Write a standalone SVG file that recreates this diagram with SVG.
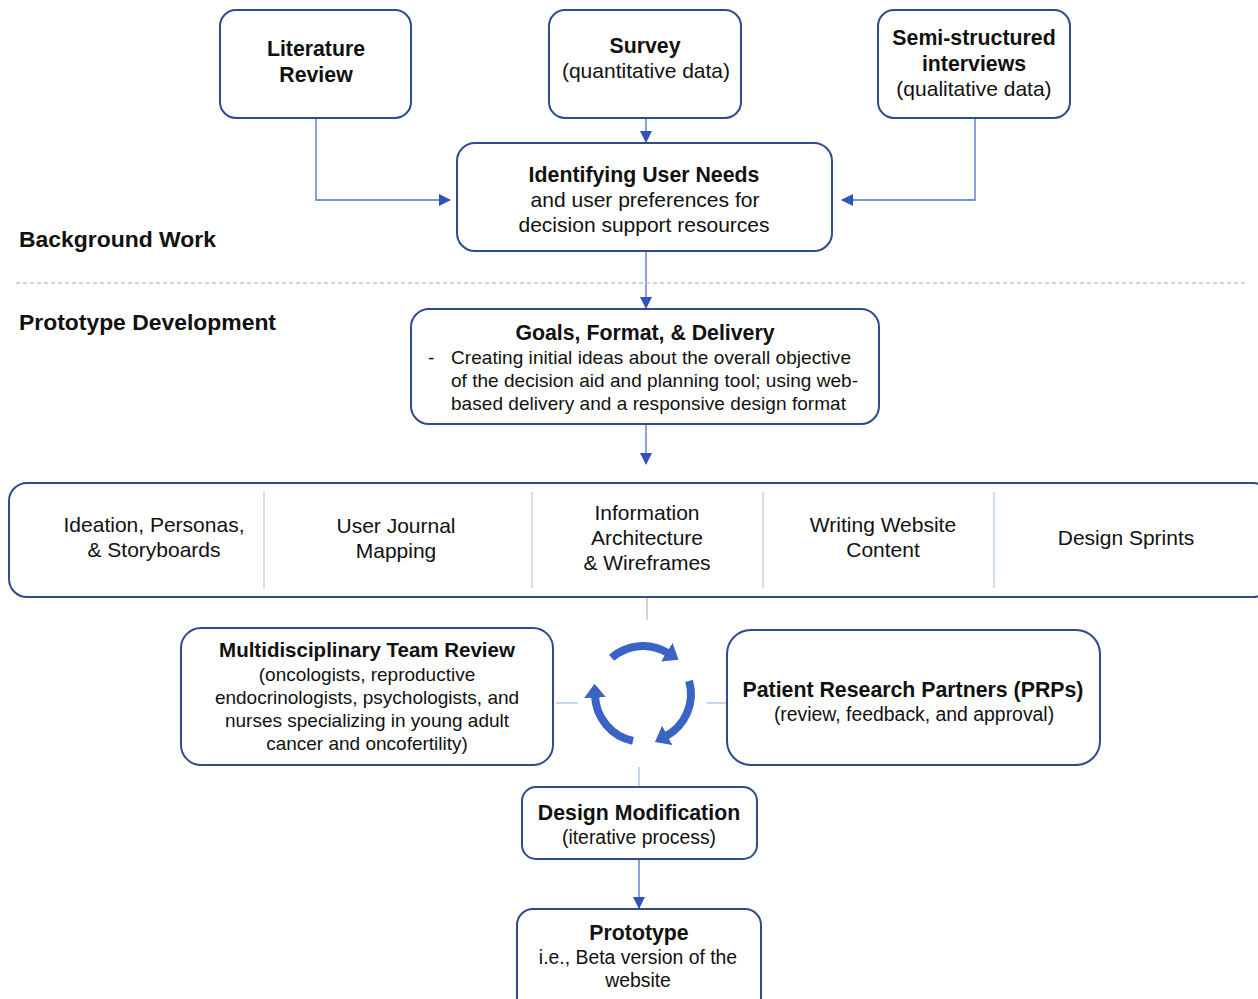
<svg xmlns="http://www.w3.org/2000/svg" width="1258" height="999" viewBox="0 0 1258 999">
<style>
.box{fill:#fff;stroke:#2e4b8c;stroke-width:2}
.t{font-family:"Liberation Sans",Arial,sans-serif;fill:#111;text-anchor:middle}
.b{font-weight:bold;font-size:21.3px}
.s21{font-size:21px}
.s19{font-size:19px}
.s195{font-size:19.4px}
.con{fill:none;stroke:#4a73c9;stroke-width:1.3}
.light{fill:none;stroke:#a9c0e6;stroke-width:1.3}
.div{stroke:#c3d3ee;stroke-width:1.5}
.cyc{fill:none;stroke:#3a63c6;stroke-width:8}
</style>
<defs>
<marker id="ah" markerUnits="userSpaceOnUse" markerWidth="12" markerHeight="12" viewBox="0 0 12 12" refX="11" refY="6" orient="auto">
<path d="M0 0 L12 6 L0 12 z" fill="#3152b8"/>
</marker>
<marker id="cy" markerUnits="userSpaceOnUse" markerWidth="14" markerHeight="22" viewBox="0 0 14 22" refX="2" refY="11" orient="auto">
<path d="M0 0 L14 11 L0 22 z" fill="#3a63c6"/>
</marker>
</defs>

<g id="connectors">
<path class="con" d="M316 118 V200 H450" marker-end="url(#ah)"/>
<path class="con" d="M646 118 V142" marker-end="url(#ah)"/>
<path class="con" d="M975 118 V200 H842" marker-end="url(#ah)"/>
<path class="con" d="M646 251 V308" marker-end="url(#ah)"/>
<path class="con" d="M646 424 V464" marker-end="url(#ah)"/>
<path class="light" d="M647 598 V620"/>
<path class="light" d="M556 703 H578"/>
<path class="light" d="M707 703 H729"/>
<path class="light" d="M639 767 V787"/>
<path class="con" d="M639 859 V908" marker-end="url(#ah)"/>
<path class="cyc" d="M611.5 657.8 A48 48 0 0 1 668.4 653.3" marker-end="url(#cy)"/>
<path class="cyc" d="M689.1 680.8 A48 48 0 0 1 665.5 736.4" marker-end="url(#cy)"/>
<path class="cyc" d="M633 740.9 A48 48 0 0 1 595 695.7" marker-end="url(#cy)"/>
</g>

<line x1="16" y1="283" x2="1246" y2="283" stroke="#c4c4c4" stroke-width="1.3" stroke-dasharray="4 3"/>
<text id="bg-label" class="t b" x="19" y="247" style="text-anchor:start;font-size:22px" textLength="197" lengthAdjust="spacingAndGlyphs">Background Work</text>
<text id="pd-label" class="t b" x="19" y="330" style="text-anchor:start;font-size:22px" textLength="257" lengthAdjust="spacingAndGlyphs">Prototype Development</text>

<g id="literature">
<rect class="box" x="220" y="10" width="191" height="108" rx="16"/>
<text class="t b" x="316" y="56">Literature</text>
<text class="t b" x="316" y="82">Review</text>
</g>
<g id="survey">
<rect class="box" x="549" y="10" width="192" height="108" rx="16"/>
<text class="t b" x="645" y="53">Survey</text>
<text class="t s21" x="646" y="78">(quantitative data)</text>
</g>
<g id="interviews">
<rect class="box" x="878" y="10" width="192" height="108" rx="16"/>
<text class="t b" x="974" y="45">Semi-structured</text>
<text class="t b" x="974" y="71">interviews</text>
<text class="t s21" x="974" y="96">(qualitative data)</text>
</g>
<g id="user-needs">
<rect class="box" x="457" y="143" width="375" height="108" rx="18"/>
<text class="t b" x="644" y="182">Identifying User Needs</text>
<text class="t s21" x="645" y="207">and user preferences for</text>
<text class="t s21" x="644" y="232">decision support resources</text>
</g>
<g id="goals">
<rect class="box" x="411" y="309" width="468" height="115" rx="18"/>
<text class="t b" x="645" y="340">Goals, Format, &amp; Delivery</text>
<text class="t s19" x="428" y="364" style="text-anchor:start">-</text>
<text class="t s19" x="451" y="364" style="text-anchor:start" textLength="400">Creating initial ideas about the overall objective</text>
<text class="t s19" x="451" y="387" style="text-anchor:start" textLength="407">of the decision aid and planning tool; using web-</text>
<text class="t s19" x="451" y="410" style="text-anchor:start" textLength="395">based delivery and a responsive design format</text>
</g>
<g id="activities">
<rect class="box" x="9" y="483" width="1262" height="114" rx="18"/>
<line class="div" x1="264" y1="492" x2="264" y2="588"/>
<line class="div" x1="532" y1="492" x2="532" y2="588"/>
<line class="div" x1="763" y1="492" x2="763" y2="588"/>
<line class="div" x1="994" y1="492" x2="994" y2="588"/>
<text class="t s21" x="154" y="532">Ideation, Personas,</text>
<text class="t s21" x="154" y="557">&amp; Storyboards</text>
<text class="t s21" x="396" y="533">User Journal</text>
<text class="t s21" x="396" y="558">Mapping</text>
<text class="t s21" x="647" y="520">Information</text>
<text class="t s21" x="647" y="545">Architecture</text>
<text class="t s21" x="647" y="570">&amp; Wireframes</text>
<text class="t s21" x="883" y="532">Writing Website</text>
<text class="t s21" x="883" y="557">Content</text>
<text class="t s21" x="1126" y="545">Design Sprints</text>
</g>
<g id="team-review">
<rect class="box" x="181" y="628" width="372" height="137" rx="20"/>
<text class="t b" x="367" y="657" style="font-size:20.5px">Multidisciplinary Team Review</text>
<text class="t s19" x="367" y="681">(oncologists, reproductive</text>
<text class="t s19" x="367" y="704">endocrinologists, psychologists, and</text>
<text class="t s19" x="367" y="727">nurses specializing in young adult</text>
<text class="t s19" x="367" y="750">cancer and oncofertility)</text>
</g>
<g id="prps">
<rect class="box" x="727" y="630" width="373" height="135" rx="24"/>
<text class="t b" x="913" y="697">Patient Research Partners (PRPs)</text>
<text class="t s195" x="914" y="721">(review, feedback, and approval)</text>
</g>
<g id="design-mod">
<rect class="box" x="522" y="787" width="235" height="72" rx="14"/>
<text class="t b" x="639" y="820">Design Modification</text>
<text class="t s195" x="639" y="844">(iterative process)</text>
</g>
<g id="prototype">
<rect class="box" x="517" y="909" width="244" height="110" rx="16"/>
<text class="t b" x="639" y="940">Prototype</text>
<text class="t s195" x="638" y="964">i.e., Beta version of the</text>
<text class="t s195" x="638" y="987">website</text>
</g>
</svg>
